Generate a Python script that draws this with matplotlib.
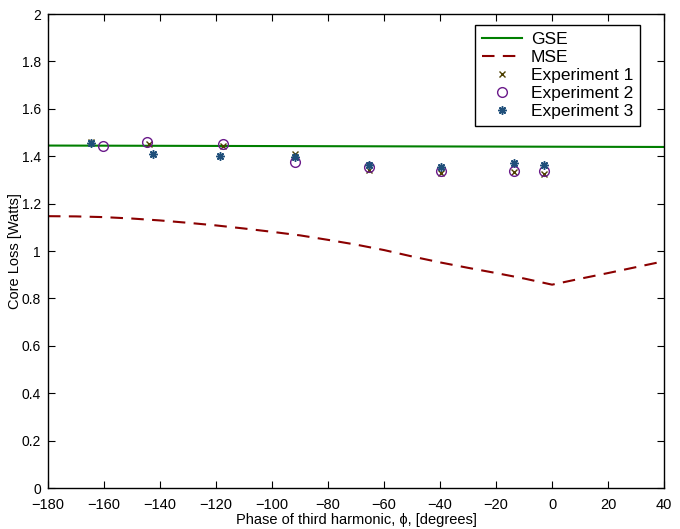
import numpy as np
import matplotlib
matplotlib.use('Agg')
import matplotlib.pyplot as plt

plt.rcParams['font.family'] = ['Liberation Sans', 'DejaVu Sans']

# model curves
phase_gse = [-180, 40]
gse = [1.445, 1.439]

phase_mse = [-180, -170, -160, -150, -140, -130, -120, -110, -100, -90, -80,
             -70, -60, -50, -40, -30, -20, -10, 0, 10, 20, 30, 40]
mse = [1.147, 1.146, 1.143, 1.137, 1.129, 1.119, 1.108, 1.095, 1.081, 1.066, 1.047,
       1.027, 1.004, 0.977, 0.952, 0.929, 0.907, 0.884, 0.858, 0.883, 0.907, 0.932, 0.957]

# measurements
phase_exp1 = [-164.5, -143.8, -117.5, -91.7, -65.5, -39.7, -13.5, -2.9]
exp1 = [1.462, 1.451, 1.444, 1.408, 1.342, 1.331, 1.333, 1.324]
phase_exp2 = [-160.5, -144.6, -117.5, -91.7, -65.5, -39.7, -13.5, -2.9]
exp2 = [1.444, 1.459, 1.453, 1.377, 1.355, 1.339, 1.338, 1.339]
phase_exp3 = [-164.5, -142.5, -118.7, -91.7, -65.5, -39.7, -13.5, -2.9]
exp3 = [1.454, 1.408, 1.401, 1.397, 1.362, 1.353, 1.372, 1.362]

fig = plt.figure(figsize=(6.8, 5.29), dpi=100)
ax = fig.add_axes([0.0706, 0.0775, 0.906, 0.896])

ax.plot(phase_gse, gse, color='#007f00', lw=1.5, label='GSE')
ax.plot(phase_mse, mse, color='#8b0000', lw=1.5, linestyle=(0, (6, 4)), label='MSE')
ax.plot(phase_exp1, exp1, linestyle='none', marker='x', ms=5, mew=1.0,
        color='#4d3f00', label='Experiment 1')
ax.plot(phase_exp2, exp2, linestyle='none', marker='o', ms=7, mew=1.0,
        mfc='none', mec='#6a1a8a', label='Experiment 2')
ax.plot(phase_exp3, exp3, linestyle='none', marker=(8, 2, 0), ms=6, mew=1.1,
        color='#1f4f7a', label='Experiment 3')

ax.set_xlim(-180, 40)
ax.set_ylim(0, 2)
ax.set_xticks(np.arange(-180, 41, 20))
ax.set_yticks(np.arange(0, 2.01, 0.2))
ax.set_yticklabels(['0', '0.2', '0.4', '0.6', '0.8', '1', '1.2', '1.4', '1.6', '1.8', '2'])
ax.set_xticklabels(['\u2212180', '\u2212160', '\u2212140', '\u2212120', '\u2212100', '\u221280',
                    '\u221260', '\u221240', '\u221220', '0', '20', '40'])
ax.tick_params(direction='in', top=True, right=True, length=5, width=0.8, labelsize=10.5)
ax.tick_params(axis='x', pad=7)
ax.tick_params(axis='y', pad=5, labelsize=10)
for s in ax.spines.values():
    s.set_linewidth(1.0)

ax.set_xlabel('Phase of third harmonic, \u03d5, [degrees]', fontsize=10.5, labelpad=1)
ax.set_ylabel('Core Loss [Watts]', fontsize=10.5)
ax.yaxis.set_label_coords(-0.043, 0.5)

leg = ax.legend(loc='upper right', bbox_to_anchor=(0.961, 0.977), fontsize=12.5,
                fancybox=False, edgecolor='black', framealpha=1, handlelength=2.3,
                handletextpad=0.5, borderpad=0.4, labelspacing=0.17, borderaxespad=0)
leg.get_frame().set_linewidth(1.0)

plt.savefig('out.png', dpi=100)
